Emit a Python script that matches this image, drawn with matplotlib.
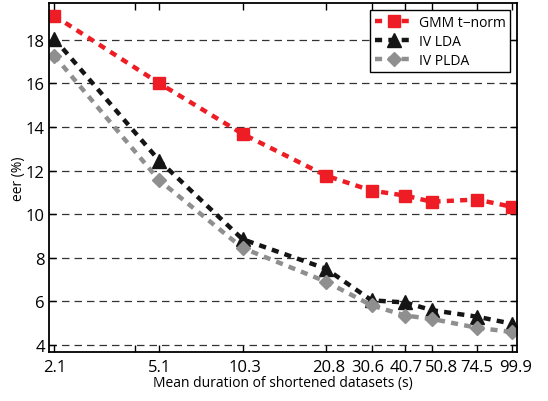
import matplotlib
matplotlib.use("Agg")
import matplotlib.pyplot as plt
import matplotlib.transforms as mtransforms
from matplotlib.ticker import FixedLocator, NullFormatter, NullLocator

plt.rcParams["font.family"] = ["Open Sans", "DejaVu Sans"]

durations = [2.1, 5.1, 10.3, 20.8, 30.6, 40.7, 50.8, 74.5, 99.9]
tick_labels = ["2.1", "5.1", "10.3", "20.8", "30.6", "40.7", "50.8", "74.5", "99.9"]
gmm_tnorm = [19.1, 16.0, 13.68, 11.77, 11.08, 10.85, 10.57, 10.67, 10.34]
iv_lda = [18.05, 12.45, 8.85, 7.5, 6.05, 5.95, 5.6, 5.3, 4.98]
iv_plda = [17.27, 11.55, 8.45, 6.91, 5.82, 5.35, 5.2, 4.79, 4.6]

# labels were nudged sideways in the original so they don't collide (pixels)
label_shift = [1, 0, 2, 3, -4, 1, 10, 0, 4]

fig = plt.figure(figsize=(5.48, 4.02), dpi=100)
ax = fig.add_axes([0.0894, 0.1219, 0.854, 0.867])

ls = (0, (1.6, 1.4))
ax.plot(durations, gmm_tnorm, color="#ee1c24", lw=3.2, ls=ls, marker="s", ms=8,
        mec="#ee1c24", label="GMM t\u2212norm")
ax.plot(durations, iv_lda, color="#151515", lw=3.2, ls=ls, marker="^", ms=10,
        label="IV LDA")
ax.plot(durations, iv_plda, color="#8f8f8f", lw=3.2, ls=ls, marker="D", ms=7.5,
        label="IV PLDA")

ax.set_xscale("log")
ax.set_xlim(2.01, 104.5)
ax.set_ylim(3.68, 19.66)
ax.xaxis.set_major_locator(FixedLocator(durations))
ax.set_xticklabels(tick_labels)
ax.xaxis.set_minor_locator(FixedLocator([4.15]))
ax.xaxis.set_minor_formatter(NullFormatter())
ax.set_yticks([4, 6, 8, 10, 12, 14, 16, 18])
ax.yaxis.set_minor_locator(NullLocator())

ax.tick_params(direction="in", top=True, right=True, labelsize=12, length=5, width=1)
ax.tick_params(which="minor", direction="in", top=True, length=5, width=1)
ax.tick_params(axis="x", pad=5)
ax.tick_params(axis="y", pad=3)

for lab, dx in zip(ax.get_xticklabels(), label_shift):
    lab.set_transform(lab.get_transform() +
                      mtransforms.ScaledTranslation(dx / 100, 0, fig.dpi_scale_trans))

ax.yaxis.grid(True, ls=(0, (6, 4)), color="#333333", lw=0.9)
ax.set_axisbelow(True)
for s in ax.spines.values():
    s.set_linewidth(1.3)

ax.set_xlabel("Mean duration of shortened datasets (s)", fontsize=10, labelpad=0)
ax.set_ylabel("eer (%)", fontsize=10, labelpad=0)

leg = ax.legend(loc="upper right", fontsize=10, handlelength=2.8, fancybox=False,
                edgecolor="black", framealpha=1, borderaxespad=0.5,
                labelspacing=0.3, handletextpad=0.4, borderpad=0.3)
leg.get_frame().set_linewidth(1.0)

fig.savefig("out.png", dpi=100)
